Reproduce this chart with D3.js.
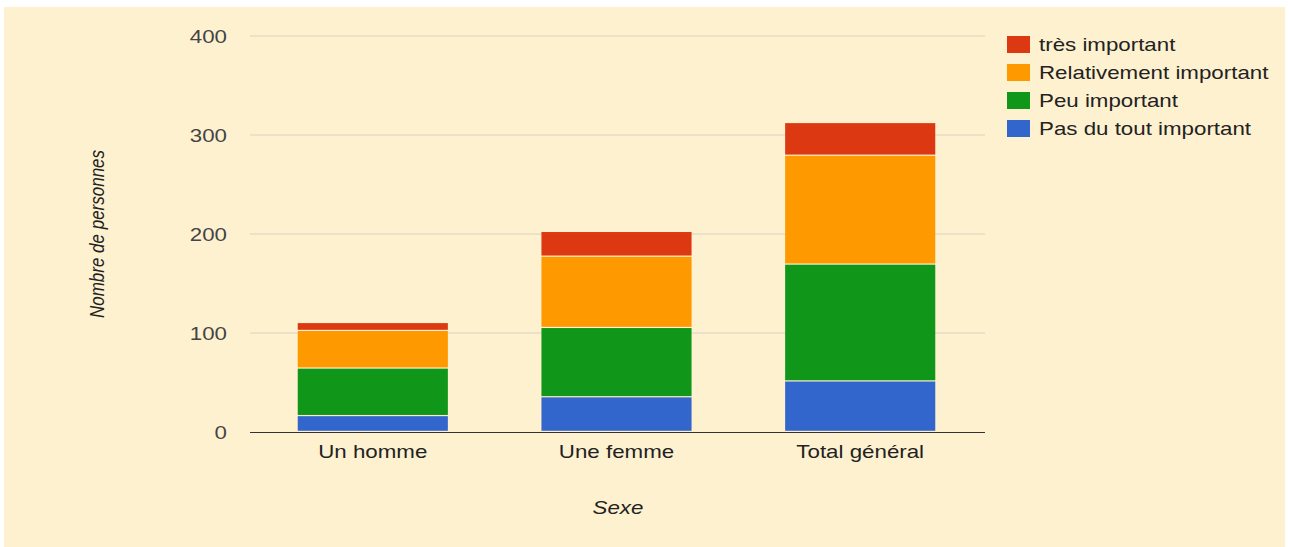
<!DOCTYPE html>
<html><head><meta charset="utf-8">
<script src="https://cdn.jsdelivr.net/npm/d3@7"></script>
<style>
html,body{margin:0;padding:0;background:#fff;}
svg{display:block;}
text{font-family:"Liberation Sans",Arial,sans-serif;}
</style></head>
<body>
<svg id="chart" width="1289" height="547"></svg>
<script>
const categories = ["Un homme", "Une femme", "Total général"];
const seriesNames = ["Pas du tout important", "Peu important", "Relativement important", "très important"];
const pasDuTout = [16, 35, 51];
const peu = [48, 70, 118];
const relativement = [38, 72, 110];
const tres = [8, 25, 33];
const yTicks = [0, 100, 200, 300, 400];
const colors = ["#3366cc", "#109618", "#ff9900", "#dc3912"];

const SX = 1.24; // horizontal stretch of text seen in the reference

const svg = d3.select("#chart");
svg.append("rect").attr("x", 4).attr("y", 7).attr("width", 1281).attr("height", 540).attr("fill", "#fef1d0");

const x = d3.scaleBand().domain(categories).range([249, 984]).paddingInner(0.384).paddingOuter(0.2);
const y = d3.scaleLinear().domain([0, 400]).range([432, 36]);

const rows = categories.map((c, i) => ({cat: c, s0: pasDuTout[i], s1: peu[i], s2: relativement[i], s3: tres[i]}));
const stack = d3.stack().keys(["s0", "s1", "s2", "s3"]);
const layers = stack(rows);

// gridlines
svg.append("g").selectAll("line").data(yTicks.filter(t => t > 0)).join("line")
  .attr("x1", 250).attr("x2", 985)
  .attr("y1", d => y(d)).attr("y2", d => y(d))
  .attr("stroke", "#d9d2c0").attr("stroke-width", 1);

// bars
svg.append("g").selectAll("g").data(layers).join("g")
  .attr("fill", (d, i) => colors[i])
  .selectAll("rect").data(d => d).join("rect")
  .attr("x", d => x(d.data.cat))
  .attr("width", x.bandwidth())
  .attr("y", d => y(d[1]))
  .attr("height", d => Math.max(0, y(d[0]) - y(d[1]) - 1.2));

// baseline
svg.append("line").attr("x1", 250).attr("x2", 985).attr("y1", y(0) + 0.5).attr("y2", y(0) + 0.5)
  .attr("stroke", "#333").attr("stroke-width", 1.2);

// y axis
const yAxis = d3.axisLeft(y).tickValues(yTicks).tickSize(0).tickPadding(0);
const gy = svg.append("g").attr("transform", "translate(227,0)").call(yAxis);
gy.select(".domain").remove();
gy.selectAll("text").attr("font-size", 18).attr("fill", "#444").attr("dy", "0.35em")
  .attr("transform", `scale(${SX},1)`)
  .style("font-family", "'Liberation Sans',Arial,sans-serif");

// x axis
const xAxis = d3.axisBottom(x).tickSize(0).tickPadding(0);
const gx = svg.append("g").attr("transform", "translate(0,445)").call(xAxis);
gx.select(".domain").remove();
gx.selectAll("text").attr("font-size", 18).attr("fill", "#222").attr("dy", "0.72em")
  .attr("transform", `scale(${SX},1)`)
  .style("font-family", "'Liberation Sans',Arial,sans-serif");

// axis titles
svg.append("text").attr("transform", `translate(618,514) scale(${SX},1)`).attr("text-anchor", "middle")
  .attr("font-size", 18).attr("font-style", "italic").attr("fill", "#222").text("Sexe");
svg.append("text").attr("transform", "translate(104,234) rotate(-90) scale(1,1.15)").attr("text-anchor", "middle")
  .attr("font-size", 17).attr("font-style", "italic").attr("fill", "#222")
  .style("font-family", "'Liberation Sans Narrow','Arial Narrow',sans-serif")
  .text("Nombre de personnes");

// legend
const legendOrder = [3, 2, 1, 0];
const lg = svg.append("g").selectAll("g").data(legendOrder).join("g")
  .attr("transform", (d, i) => `translate(1007,${36 + i * 28})`);
lg.append("rect").attr("width", 23).attr("height", 17).attr("fill", d => colors[d]);
lg.append("text").attr("transform", `translate(32,8.5) scale(${SX},1)`).attr("dy", "0.35em")
  .attr("font-size", 18).attr("fill", "#222").text(d => seriesNames[d]);
</script>
</body></html>
